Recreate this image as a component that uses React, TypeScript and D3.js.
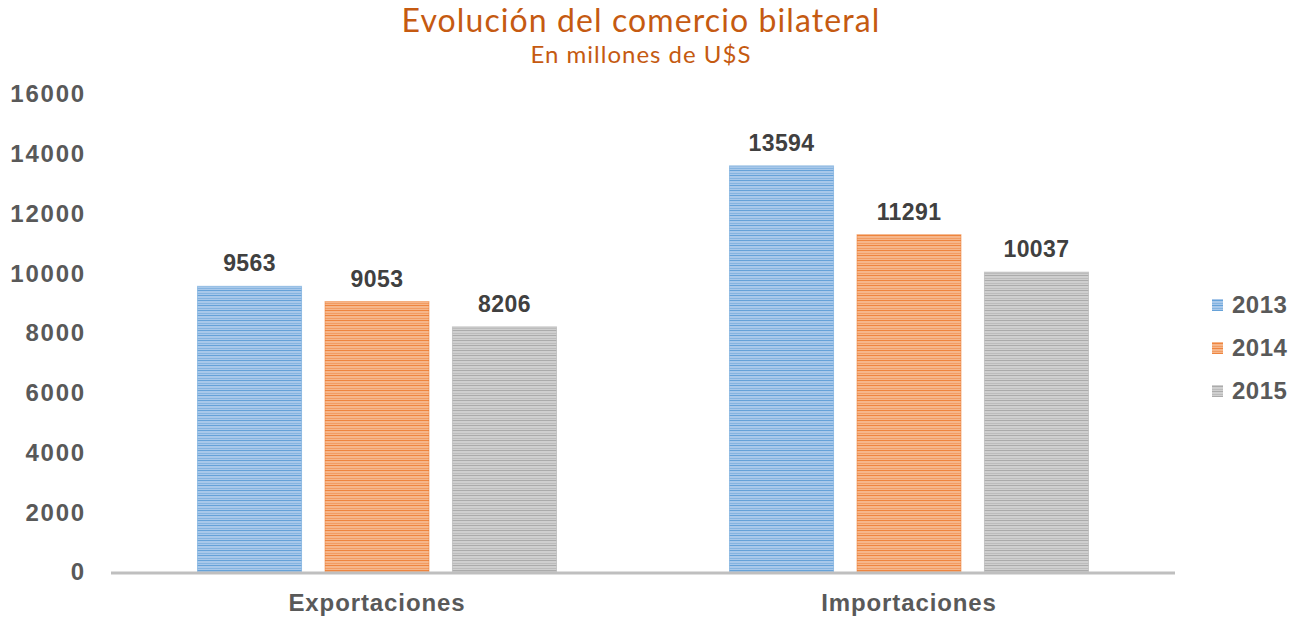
import React from "react";
import * as d3 from "d3";

const categories = ["Exportaciones", "Importaciones"];
const years = ["2013", "2014", "2015"];
const values2013 = [9563, 13594];
const values2014 = [9053, 11291];
const values2015 = [8206, 10037];
const yTicks = [0, 2000, 4000, 6000, 8000, 10000, 12000, 14000, 16000];

const seriesValues: Record<string, number[]> = {
  "2013": values2013,
  "2014": values2014,
  "2015": values2015,
};

const palette: Record<string, { base: string; line: string; edge: string }> = {
  "2013": { base: "#a8c8ea", line: "#5b9bd5", edge: "#5b9bd5" },
  "2014": { base: "#f6b68a", line: "#ed7d31", edge: "#ed7d31" },
  "2015": { base: "#cfcfcf", line: "#a5a5a5", edge: "#a5a5a5" },
};

const W = 1296;
const H = 620;
const left = 111;
const right = 1175;
const top = 94;
const bottom = 572;

export default function App() {
  const y = d3.scaleLinear().domain([0, 16000]).range([bottom, top]);
  const x0 = d3.scaleBand<string>().domain(categories).range([left, right]).padding(0);
  const bw0 = x0.bandwidth();
  const x1 = d3
    .scaleBand<string>()
    .domain(years)
    .range([bw0 * 0.1626, bw0 * 0.8374])
    .paddingInner(0.184)
    .paddingOuter(0);
  const sans = "'Liberation Sans', Arial, sans-serif";
  const textColor = "#595959";

  return (
    <svg
      width={W}
      height={H}
      viewBox={`0 0 ${W} ${H}`}
      style={{ position: "absolute", left: 0, top: 0, display: "block", background: "#fff" }}
    >
      <defs>
        {years.map((yr) => (
          <pattern
            key={yr}
            id={`stripe-${yr}`}
            patternUnits="userSpaceOnUse"
            width={8}
            height={5}
          >
            <rect x={0} y={0} width={8} height={5} fill={palette[yr].base} />
            <rect x={0} y={0} width={8} height={1} fill={palette[yr].line} opacity={0.85} />
            <rect x={0} y={3} width={8} height={1} fill={palette[yr].line} opacity={0.45} />
          </pattern>
        ))}
      </defs>

      <text
        x={641}
        y={32}
        textAnchor="middle"
        fontFamily="Lato, sans-serif"
        fontSize={32}
        letterSpacing={1.1}
        fill="#c55a11"
      >
        Evolución del comercio bilateral
      </text>
      <text
        x={641}
        y={63}
        textAnchor="middle"
        fontFamily="Lato, sans-serif"
        fontSize={24}
        letterSpacing={1}
        fill="#c55a11"
      >
        En millones de U$S
      </text>

      {yTicks.map((t) => (
        <text
          key={t}
          x={86}
          y={y(t)}
          dy="0.35em"
          textAnchor="end"
          fontFamily={sans}
          fontWeight="bold"
          fontSize={24}
          letterSpacing={1.8}
          fill={textColor}
        >
          {t}
        </text>
      ))}

      {categories.map((c, ci) => (
        <g key={c} transform={`translate(${x0(c)},0)`}>
          {years.map((yr) => {
            const v = seriesValues[yr][ci];
            const bx = x1(yr)!;
            const bw = x1.bandwidth();
            return (
              <g key={yr}>
                <rect
                  x={bx}
                  y={y(v)}
                  width={bw}
                  height={bottom - y(v)}
                  fill={`url(#stripe-${yr})`}
                  stroke={palette[yr].edge}
                  strokeOpacity={0.5}
                  strokeWidth={1}
                />
                <text
                  x={bx + bw / 2}
                  y={y(v) - 15}
                  textAnchor="middle"
                  fontFamily={sans}
                  fontWeight="bold"
                  fontSize={23}
                  letterSpacing={0.4}
                  fill="#404040"
                >
                  {v}
                </text>
              </g>
            );
          })}
          <text
            x={bw0 / 2}
            y={611}
            textAnchor="middle"
            fontFamily={sans}
            fontWeight="bold"
            fontSize={24}
            letterSpacing={0.9}
            fill={textColor}
          >
            {c}
          </text>
        </g>
      ))}

      <line x1={left} x2={right} y1={bottom + 1} y2={bottom + 1} stroke="#bfbfbf" strokeWidth={3} />

      {years.map((yr, i) => (
        <g key={yr} transform={`translate(1212,${305 + i * 43})`}>
          <rect x={0} y={-6} width={11} height={12} fill={`url(#stripe-${yr})`} />
          <text
            x={20}
            y={0}
            dy="0.35em"
            fontFamily={sans}
            fontWeight="bold"
            fontSize={24}
            letterSpacing={0.5}
            fill={textColor}
          >
            {yr}
          </text>
        </g>
      ))}
    </svg>
  );
}
